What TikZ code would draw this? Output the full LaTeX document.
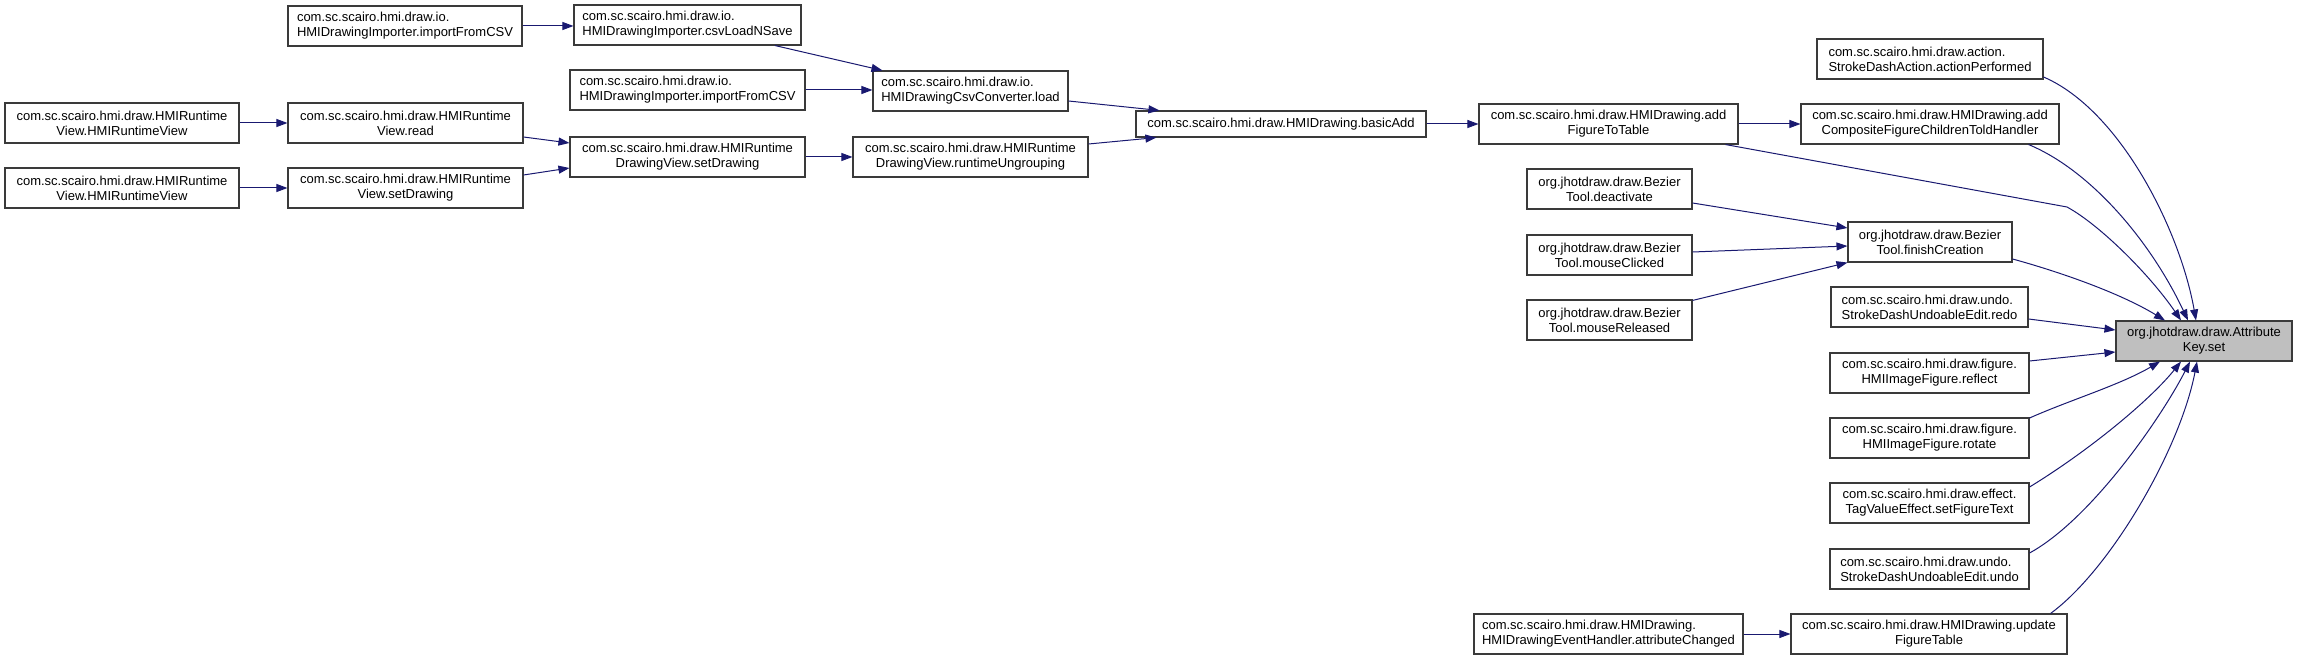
\documentclass[tikz,border=0pt]{standalone}
\usepackage{fontspec}
\setmainfont{Liberation Sans}
\usetikzlibrary{arrows.meta}
\definecolor{edgec}{HTML}{191970}
\definecolor{boxc}{HTML}{3A3A3A}
\definecolor{hfill}{HTML}{BFBFBF}
\begin{document}
\begin{tikzpicture}[x=1pt,y=-1pt,
  box/.style={draw=boxc, line width=1.1pt, fill=white, inner sep=0pt, align=center,
    font=\fontsize{13}{15}\selectfont, minimum height=40pt},
  lbox/.style={box, align=left},
  edge/.style={draw=edgec, line width=1pt, -{Triangle[length=11pt,width=8pt]}}]
\useasboundingbox (0,0) rectangle (2297,660);
% column A
\node[box, minimum width=234pt] (A1) at (122,123) {com.sc.scairo.hmi.draw.HMIRuntime\\View.HMIRuntimeView};
\node[box, minimum width=234pt] (A2) at (122,188) {com.sc.scairo.hmi.draw.HMIRuntime\\View.HMIRuntimeView};
% column B
\node[lbox, minimum width=234pt] (I1) at (405,26) {com.sc.scairo.hmi.draw.io.\\HMIDrawingImporter.importFromCSV};
\node[box, minimum width=235pt] (B1) at (405.5,123) {com.sc.scairo.hmi.draw.HMIRuntime\\View.read};
\node[box, minimum width=235pt] (B2) at (405.5,188) {com.sc.scairo.hmi.draw.HMIRuntime\\View.setDrawing};
% column C
\node[lbox, minimum width=227pt] (C1) at (687.5,25) {com.sc.scairo.hmi.draw.io.\\HMIDrawingImporter.csvLoadNSave};
\node[lbox, minimum width=235pt] (C2) at (687.5,90) {com.sc.scairo.hmi.draw.io.\\HMIDrawingImporter.importFromCSV};
\node[box, minimum width=235pt] (C3) at (687.5,157) {com.sc.scairo.hmi.draw.HMIRuntime\\DrawingView.setDrawing};
% column D
\node[lbox, minimum width=195pt] (D1) at (970.5,91) {com.sc.scairo.hmi.draw.io.\\HMIDrawingCsvConverter.load};
\node[box, minimum width=235pt] (D2) at (970.5,157) {com.sc.scairo.hmi.draw.HMIRuntime\\DrawingView.runtimeUngrouping};
% column E
\node[box, minimum width=290pt, minimum height=26pt] (E) at (1281,124) {com.sc.scairo.hmi.draw.HMIDrawing.basicAdd};
% column F
\node[box, minimum width=259pt] (F1) at (1608.5,124) {com.sc.scairo.hmi.draw.HMIDrawing.add\\FigureToTable};
\node[box, minimum width=165pt] (F2) at (1609.5,189) {org.jhotdraw.draw.Bezier\\Tool.deactivate};
\node[box, minimum width=165pt] (F3) at (1609.5,255) {org.jhotdraw.draw.Bezier\\Tool.mouseClicked};
\node[box, minimum width=165pt] (F4) at (1609.5,320) {org.jhotdraw.draw.Bezier\\Tool.mouseReleased};
\node[lbox, minimum width=269pt] (F5) at (1608.5,634) {com.sc.scairo.hmi.draw.HMIDrawing.\\HMIDrawingEventHandler.attributeChanged};
% column G
\node[lbox, minimum width=226pt] (G0) at (1930,59) {com.sc.scairo.hmi.draw.action.\\StrokeDashAction.actionPerformed};
\node[box, minimum width=258pt] (G1) at (1930,124) {com.sc.scairo.hmi.draw.HMIDrawing.add\\CompositeFigureChildrenToldHandler};
\node[box, minimum width=164pt] (G2) at (1930,242) {org.jhotdraw.draw.Bezier\\Tool.finishCreation};
\node[lbox, minimum width=197pt] (G3) at (1929.5,307) {com.sc.scairo.hmi.draw.undo.\\StrokeDashUndoableEdit.redo};
\node[box, minimum width=199pt] (G4) at (1929.5,373) {com.sc.scairo.hmi.draw.figure.\\HMIImageFigure.reflect};
\node[box, minimum width=199pt] (G5) at (1929.5,438) {com.sc.scairo.hmi.draw.figure.\\HMIImageFigure.rotate};
\node[box, minimum width=199pt] (G6) at (1929.5,503) {com.sc.scairo.hmi.draw.effect.\\TagValueEffect.setFigureText};
\node[lbox, minimum width=199pt] (G7) at (1929.5,569) {com.sc.scairo.hmi.draw.undo.\\StrokeDashUndoableEdit.undo};
\node[box, minimum width=276pt] (G8) at (1929,634) {com.sc.scairo.hmi.draw.HMIDrawing.update\\FigureTable};
% target
\node[box, fill=hfill, minimum width=176pt] (H) at (2204,341) {org.jhotdraw.draw.Attribute\\Key.set};
% edges
\draw[edge] (I1.east) -- (I1.east -| C1.west);
\draw[edge] ([xshift=87.5pt]C1.south) -- ([xshift=10pt]D1.north west);
\draw[edge] (C2.east) -- (C2.east -| D1.west);
\draw[edge] (A1.east) -- (B1.west);
\draw[edge] (A2.east) -- (B2.west);
\draw[edge] ([yshift=-14pt]B1.east) -- ([yshift=14pt]C3.west);
\draw[edge] ([yshift=13pt]B2.east) -- ([yshift=-11pt]C3.west);
\draw[edge] (C3.east) -- (D2.west);
\draw[edge] ([yshift=-10pt]D1.east) -- ([xshift=24pt]E.north west);
\draw[edge] ([yshift=13pt]D2.east) -- ([xshift=21pt]E.south west);
\draw[edge] (E.east) -- (F1.west);
\draw[edge] (F1.east) -- (G1.west);
\draw[edge] ([yshift=-14pt]F2.east) -- ([yshift=14pt]G2.west);
\draw[edge] ([yshift=3pt]F3.east) -- ([yshift=-4pt]G2.west);
\draw[edge] ([yshift=-1pt]F4.north east) -- (G2.south west);
\draw[edge] (F5.east) -- (G8.west);
\draw[edge] ([xshift=-13pt]F1.south east) -- (2067,207) .. controls (2100,225) and (2150,275) .. ([xshift=-23pt]H.north);
\draw[edge] ([yshift=-18pt]G0.east) .. controls (2120,110) and (2180,230) .. ([xshift=-8pt]H.north);
\draw[edge] ([xshift=-31pt]G1.south east) .. controls (2090,170) and (2150,240) .. ([xshift=-16pt]H.north);
\draw[edge] ([yshift=-17pt]G2.east) .. controls (2060,272) and (2120,293) .. ([xshift=-39pt]H.north);
\draw[edge] ([yshift=-12pt]G3.east) -- ([yshift=11pt]H.west);
\draw[edge] ([yshift=12pt]G4.east) -- ([yshift=-11pt]H.west);
\draw[edge] ([yshift=20pt]G5.east) .. controls (2070,400) and (2120,385) .. ([xshift=-44pt]H.south);
\draw[edge] ([yshift=16pt]G6.east) .. controls (2090,450) and (2150,400) .. ([xshift=-23pt]H.south);
\draw[edge] ([yshift=16pt]G7.east) .. controls (2090,520) and (2160,420) .. ([xshift=-14pt]H.south);
\draw[edge] ([xshift=-17pt]G8.north east) .. controls (2110,570) and (2180,450) .. ([xshift=-7pt]H.south);
\end{tikzpicture}
\end{document}
